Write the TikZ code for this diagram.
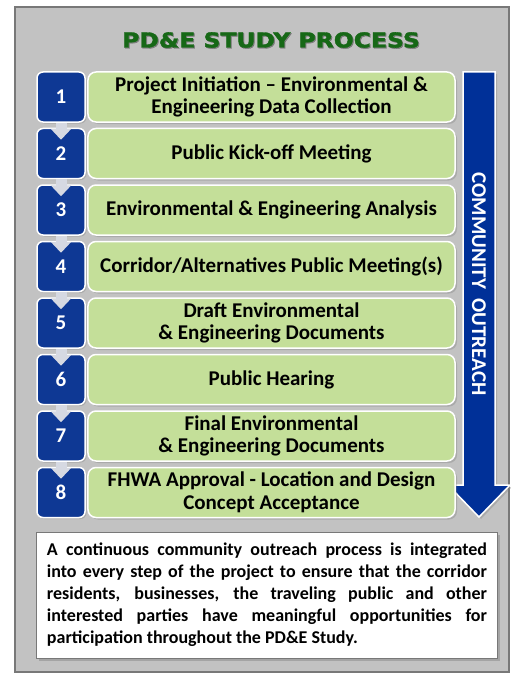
\documentclass[tikz,border=0pt]{standalone}
\usepackage{fontspec}
\setmainfont{Carlito}
\newfontfamily\titlefont[BoldFeatures={FakeBold=1.6}]{DejaVu Sans}
\usetikzlibrary{shadows,arrows.meta}
\definecolor{panelgray}{RGB}{194,194,194}
\definecolor{panelborder}{RGB}{120,120,120}
\definecolor{stepgreen}{RGB}{196,223,153}
\definecolor{numblue}{RGB}{14,56,148}
\definecolor{bigblue}{RGB}{0,48,152}
\definecolor{titlegreen}{RGB}{22,104,22}
\definecolor{connGray}{RGB}{214,217,226}
\tikzset{
  txt/.style={font=\bfseries\fontsize{18bp}{22bp}\selectfont},
  bigtxt/.style={font=\bfseries\fontsize{21bp}{22.5bp}\selectfont},
  numbox/.style={bigtxt, draw=white, line width=1.5bp, fill=numblue, text=white,
    rounded corners=6bp, minimum width=48bp, minimum height=50bp, inner sep=0pt,
    drop shadow={opacity=0.35, shadow xshift=1.5bp, shadow yshift=-1.5bp}},
  stepbox/.style={bigtxt, draw=white, line width=1.5bp, fill=stepgreen, text=black,
    rounded corners=8bp, minimum width=367bp, minimum height=50bp, inner sep=0pt,
    align=center,
    drop shadow={opacity=0.35, shadow xshift=2bp, shadow yshift=-2bp}},
  conn/.style={draw=connGray, line width=11bp,
    -{Triangle[width=20bp,length=11bp]}, shorten >=-12bp},
  titlestyle/.style={font=\titlefont\bfseries\fontsize{20.6bp}{24bp}\selectfont,
    inner sep=0pt, xscale=1.14},
}
\begin{document}
\begin{tikzpicture}[x=1bp,y=-1bp]
\useasboundingbox (0,0) rectangle (511,685);
\fill[white] (0,0) rectangle (511,685);
% panel
\draw[panelborder, line width=1.2bp, fill=panelgray] (15,7) rectangle (509,672);
% title with soft shadow
\node[titlestyle, text=black, opacity=0.3] (titleshadow) at (272,41) {PD\&E STUDY PROCESS};
\node[titlestyle, text=titlegreen] (title) at (271,40) {PD\&E STUDY PROCESS};
% big arrow
\draw[white, line width=1.5bp, fill=bigblue,
  drop shadow={opacity=0.35, shadow xshift=2bp, shadow yshift=-2bp}]
  (463,72) -- (495,72) -- (495,485) -- (510,485) -- (479,517) -- (448,485) -- (463,485) -- cycle;
\node[bigtxt, text=white, rotate=-90, inner sep=0pt] (outreach) at (479,284) {COMMUNITY\ \ OUTREACH};
% steps
\node[stepbox] (s1) at (271.5,97) {Project Initiation -- Environmental \&\\Engineering Data Collection};
\node[stepbox] (s2) at (271.5,153.5) {Public Kick-off Meeting};
\node[stepbox] (s3) at (271.5,210) {Environmental \& Engineering Analysis};
\node[stepbox] (s4) at (271.5,266.5) {Corridor/Alternatives Public Meeting(s)};
\node[stepbox] (s5) at (271.5,323) {Draft Environmental\\\& Engineering Documents};
\node[stepbox] (s6) at (271.5,379.5) {Public Hearing};
\node[stepbox] (s7) at (271.5,436) {Final Environmental\\\& Engineering Documents};
\node[stepbox] (s8) at (271.5,492.5) {FHWA Approval - Location and Design\\Concept Acceptance};
% numbers
\foreach \i in {1,...,8} {
  \node[numbox] (n\i) at (61,{97+56.5*(\i-1)}) {\i};
}
% connectors
\foreach \i/\j in {1/2,2/3,3/4,4/5,5/6,6/7,7/8} {
  \draw[conn] (n\i.south) -- (n\j.north);
}
% note
\node[txt, draw=panelborder, line width=1bp, fill=white, text=black,
  minimum width=460bp, minimum height=126bp, text width=440bp, inner sep=10bp,
  align=justify,
  drop shadow={opacity=0.45, shadow xshift=2.5bp, shadow yshift=-2.5bp}] (note) at (267,595)
  {A continuous community outreach process is integrated\linebreak
   into every step of the project to ensure that the corridor\linebreak
   residents, businesses, the traveling public and other\linebreak
   interested parties have meaningful opportunities for\linebreak
   participation throughout the PD\&E Study.};
\end{tikzpicture}
\end{document}
